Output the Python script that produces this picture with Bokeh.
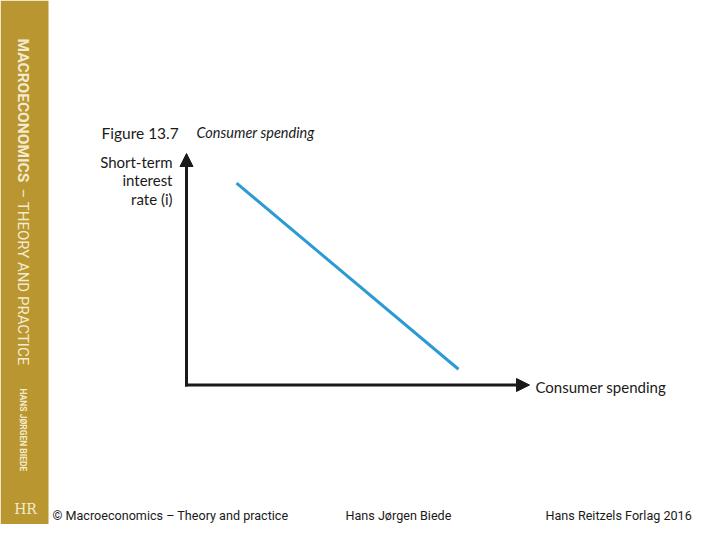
import math
from bokeh.plotting import figure
from bokeh.models import Range1d, Arrow, NormalHead, Label, BoxAnnotation
from bokeh.embed import file_html
from bokeh.resources import INLINE

# ---- chart content ----
spending = [14.6, 79.3]          # consumer spending (x), schematic units
interest = [87.2, 6.8]           # short-term interest rate (y), schematic units
axis_max = 100
title_num = "Figure 13.7"
title_txt = "Consumer spending"
y_label_lines = ["Short-term", "interest", "rate (i)"]
x_label = "Consumer spending"
side_title_bold = "MACROECONOMICS"
side_title_rest = "– THEORY AND PRACTICE"
side_author = "HANS JØRGEN BIEDE"
logo_text = "HR"
footer_left = "© Macroeconomics – Theory and practice"
footer_mid = "Hans Jørgen Biede"
footer_right = "Hans Reitzels Forlag 2016"

# ---- layout helpers (reference pixels -> data units) ----
W, H = 704, 524
X0 = 186
SX = (529 - 186) / axis_max
Y0 = 384.5
SY = (384.5 - 153) / axis_max


def dx(rx):
    return (rx - X0) / SX


def dy(ry):
    return (Y0 - ry) / SY


GOLD = "#B9962F"
CREAM = "#F4EBCF"
INK = "#1a1a1a"
MAIN_FONT = "Lato"
NARROW = "Roboto"

p = figure(width=W, height=H,
           x_range=Range1d(dx(0), dx(W)),
           y_range=Range1d(dy(H), dy(0)),
           output_backend="svg", toolbar_location=None,
           x_axis_location=None, y_axis_location=None, min_border=0)
p.grid.grid_line_color = None
p.outline_line_color = None
p.background_fill_color = "white"
p.border_fill_color = "white"

# sidebar
p.add_layout(BoxAnnotation(right=dx(48), fill_color=GOLD, fill_alpha=1.0,
                           line_color=None, level="underlay"))

# axes with arrowheads
p.add_layout(Arrow(end=NormalHead(size=13, fill_color=INK, line_color=INK, line_width=1),
                   x_start=0, y_start=-1.5 / SY, x_end=0, y_end=axis_max,
                   line_width=3, line_color=INK))
p.add_layout(Arrow(end=NormalHead(size=13, fill_color=INK, line_color=INK, line_width=1),
                   x_start=-1.5 / SX, y_start=0, x_end=axis_max, y_end=0,
                   line_width=3, line_color=INK))

# curve
p.line(spending, interest, line_width=3, line_color="#2C9AD3")

# titles and labels
p.add_layout(Label(x=dx(101), y=dy(132), text=title_num, text_font=MAIN_FONT,
                   text_font_size="15.5px", text_color=INK, text_baseline="middle"))
p.add_layout(Label(x=dx(196), y=dy(132), text=title_txt, text_font=MAIN_FONT,
                   text_font_style="italic", text_font_size="14.5px", text_color=INK,
                   text_baseline="middle"))
for i, line in enumerate(y_label_lines):
    p.add_layout(Label(x=dx(172), y=dy(161 + 18.5 * i), text=line, text_font=MAIN_FONT,
                       text_font_size="15px", text_color=INK, text_align="right",
                       text_baseline="middle"))
p.add_layout(Label(x=dx(535), y=dy(386), text=x_label, text_font=MAIN_FONT,
                   text_font_size="15px", text_color=INK, text_baseline="middle"))

# sidebar texts
p.add_layout(Label(x=dx(22), y=dy(38), text=side_title_bold, text_font=NARROW,
                   text_font_style="bold", text_font_size="15.5px", text_color=CREAM,
                   angle=-math.pi / 2, text_baseline="middle"))
p.add_layout(Label(x=dx(22), y=dy(188), text=side_title_rest, text_font=NARROW,
                   text_font_size="15px", text_color=CREAM,
                   angle=-math.pi / 2, text_baseline="middle"))
p.add_layout(Label(x=dx(22), y=dy(388), text=side_author, text_font=NARROW,
                   text_font_style="bold", text_font_size="8.5px", text_color=CREAM,
                   angle=-math.pi / 2, text_baseline="middle"))
p.add_layout(Label(x=dx(25), y=dy(508), text=logo_text, text_font="DejaVu Serif",
                   text_font_size="14px", text_color=CREAM, text_align="center",
                   text_baseline="middle"))

# footer
for xx, t in [(52, footer_left), (345, footer_mid), (545, footer_right)]:
    p.add_layout(Label(x=dx(xx), y=dy(522), text=t, text_font=NARROW,
                       text_font_size="12.6px", text_color=INK, text_baseline="bottom"))

open("out.html", "w").write(file_html(p, INLINE))
